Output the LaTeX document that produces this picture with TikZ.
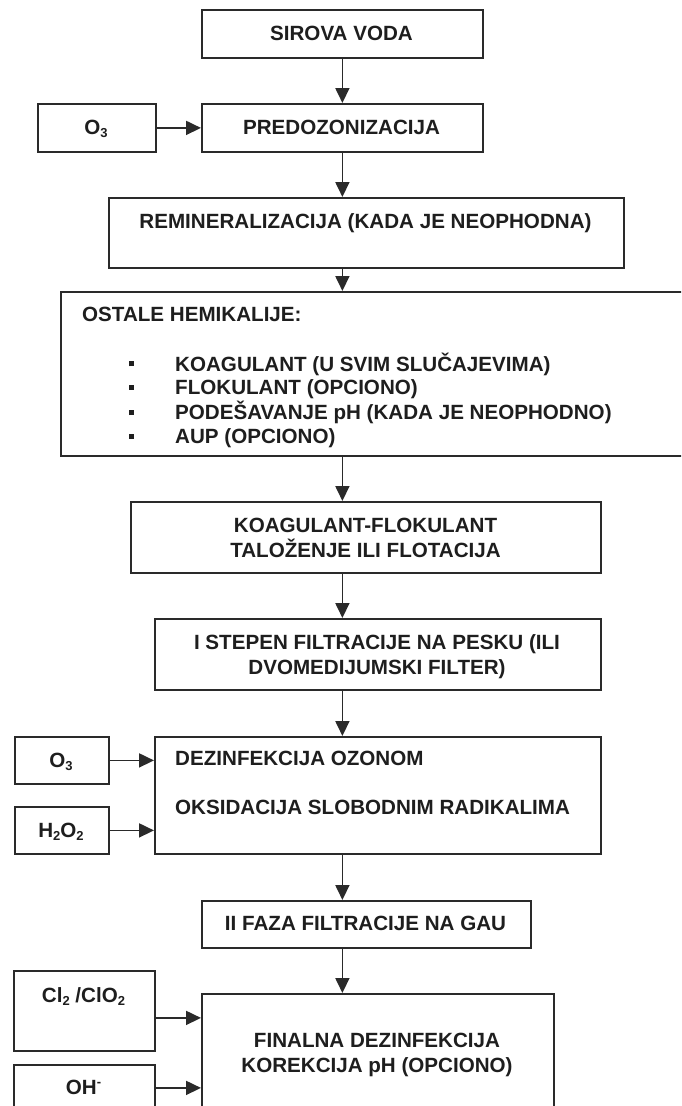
\documentclass[tikz,border=0pt]{standalone}
\usepackage{fontspec}
\setmainfont{Liberation Sans}
\usetikzlibrary{arrows.meta}
\definecolor{ink}{HTML}{1E1E1E}
\definecolor{edgec}{HTML}{2A2A2A}
\newcommand\subx[1]{\raisebox{-3pt}{\fontsize{13}{13}\selectfont #1}}
\newcommand\supx[1]{\raisebox{8pt}{\fontsize{13}{13}\selectfont #1}}
\newcommand\bulx{\raisebox{4.6pt}{\rule{4.5pt}{5pt}}}
\begin{document}
\begin{tikzpicture}[x=1pt,y=-1pt,
  boxx/.style={draw=edgec, line width=1.8pt, rectangle, inner sep=0pt, anchor=north west},
  txt/.style={text=ink, font=\fontsize{20.6}{24}\selectfont\bfseries, inner sep=0pt, anchor=base},
  arr/.style={draw=edgec, line width=1.8pt, -{Triangle[length=15pt,width=14pt]}}]
\useasboundingbox (0,0) rectangle (681,1106);
\fill[white] (0,0) rectangle (681,1106);
\clip (0,0) rectangle (681,1106);

% boxes
\node[boxx, minimum width=281pt, minimum height=48pt] (sirova) at (201,9) {};
\node[boxx, minimum width=281pt, minimum height=48pt] (predo) at (201,103) {};
\node[boxx, minimum width=118pt, minimum height=48pt] (o3a) at (37,103) {};
\node[boxx, minimum width=515pt, minimum height=70pt] (remin) at (108,197) {};
\node[boxx, minimum width=640pt, minimum height=164pt] (ostale) at (60,291) {};
\node[boxx, minimum width=470pt, minimum height=71pt] (koag) at (130,501) {};
\node[boxx, minimum width=446pt, minimum height=71pt] (istep) at (154,618) {};
\node[boxx, minimum width=446pt, minimum height=117pt] (dez) at (154,736) {};
\node[boxx, minimum width=94pt, minimum height=47pt] (o3b) at (14,736) {};
\node[boxx, minimum width=94pt, minimum height=47pt] (h2o2) at (14,806) {};
\node[boxx, minimum width=329pt, minimum height=47pt] (iifaza) at (201,900) {};
\node[boxx, minimum width=352pt, minimum height=127pt] (finalna) at (201,993) {};
\node[boxx, minimum width=141pt, minimum height=80pt] (cl2) at (13,970) {};
\node[boxx, minimum width=141pt, minimum height=46pt] (oh) at (13,1064) {};

% texts
\node[txt] (tsirova) at (341.5,40.4) {SIROVA VODA};
\node[txt] (tpredo) at (341.5,134.4) {PREDOZONIZACIJA};
\node[txt] (to3a) at (96,134.4) {O\subx{3}};
\node[txt] (tremin) at (365.5,228) {REMINERALIZACIJA (KADA JE NEOPHODNA)};
\node[txt, anchor=base west] (tostale) at (82,321) {\begin{tabular}[t]{@{}l@{}}
OSTALE HEMIKALIJE:\\[24.4pt]
\hspace*{47pt}\makebox[46pt][l]{\bulx}KOAGULANT (U SVIM SLUČAJEVIMA)\\[-0.5pt]
\hspace*{47pt}\makebox[46pt][l]{\bulx}FLOKULANT (OPCIONO)\\[-0.5pt]
\hspace*{47pt}\makebox[46pt][l]{\bulx}PODEŠAVANJE pH (KADA JE NEOPHODNO)\\[-0.5pt]
\hspace*{47pt}\makebox[46pt][l]{\bulx}AUP (OPCIONO)
\end{tabular}};
\node[txt] (tkoag) at (365.5,532.4) {\begin{tabular}[t]{@{}c@{}}KOAGULANT-FLOKULANT\\[-1pt]TALOŽENJE ILI FLOTACIJA\end{tabular}};
\node[txt] (tistep) at (377,649.4) {\begin{tabular}[t]{@{}c@{}}I STEPEN FILTRACIJE NA PESKU (ILI\\[1pt]DVOMEDIJUMSKI FILTER)\end{tabular}};
\node[txt, anchor=base west] (tdez) at (175,765.4) {\begin{tabular}[t]{@{}l@{}}DEZINFEKCIJA OZONOM\\[25pt]OKSIDACIJA SLOBODNIM RADIKALIMA\end{tabular}};
\node[txt] (to3b) at (61,767.4) {O\subx{3}};
\node[txt] (th2o2) at (61,837) {H\subx{2}O\subx{2}};
\node[txt] (tiifaza) at (365.5,930.4) {II FAZA FILTRACIJE NA GAU};
\node[txt] (tfinalna) at (377,1047.4) {\begin{tabular}[t]{@{}c@{}}FINALNA DEZINFEKCIJA\\[1pt]KOREKCIJA pH (OPCIONO)\end{tabular}};
\node[txt] (tcl2) at (83.5,1002.4) {Cl\subx{2} /ClO\subx{2}};
\node[txt] (toh) at (83.5,1094.4) {OH\supx{-}};

% vertical connectors
\draw[arr] (sirova.south) -- (predo.north);
\draw[arr] (predo.south) -- (predo.south |- remin.north);
\draw[arr] (remin.south -| predo.south) -- (ostale.north -| predo.south);
\draw[arr] (ostale.south -| predo.south) -- (koag.north -| predo.south);
\draw[arr] (koag.south -| predo.south) -- (istep.north -| predo.south);
\draw[arr] (istep.south -| predo.south) -- (dez.north -| predo.south);
\draw[arr] (dez.south -| predo.south) -- (iifaza.north -| predo.south);
\draw[arr] (iifaza.south -| predo.south) -- (finalna.north -| predo.south);

% horizontal connectors
\draw[arr] (o3a.east) -- (o3a.east -| predo.west);
\draw[arr] (o3b.east) -- (o3b.east -| dez.west);
\draw[arr] (h2o2.east) -- (h2o2.east -| dez.west);
\draw[arr] ([yshift=-7pt]cl2.east) -- ([yshift=-7pt]cl2.east -| finalna.west);
\draw[arr] (oh.east) -- (oh.east -| finalna.west);
\end{tikzpicture}
\end{document}
